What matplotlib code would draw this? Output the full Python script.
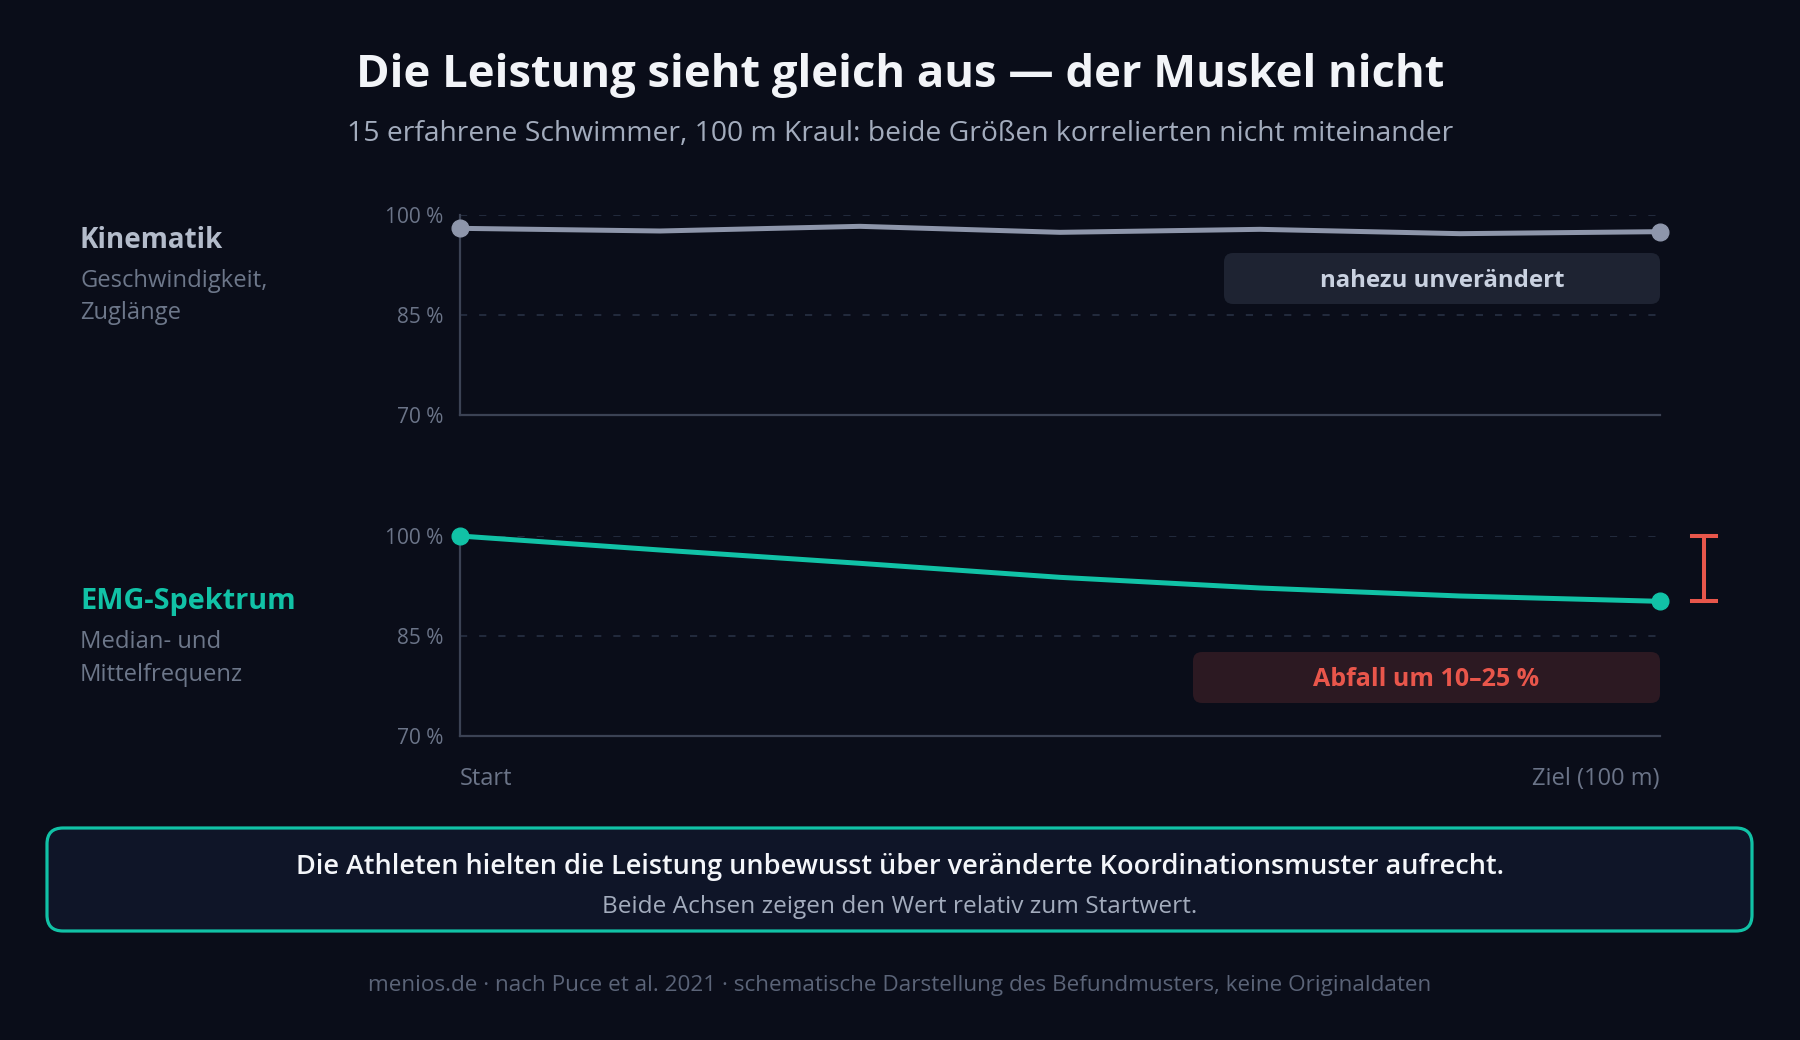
import matplotlib
matplotlib.use("Agg")
import matplotlib.pyplot as plt
from matplotlib.patches import FancyBboxPatch

plt.rcParams['font.family'] = ['Open Sans', 'Lato', 'DejaVu Sans']

# ---- data ----
x_positions = [0, 1, 2, 3, 4, 5, 6]
kinematik = [98.0, 97.6, 98.3, 97.4, 97.85, 97.2, 97.5]
emg = [100.0, 97.9, 95.9, 93.8, 92.2, 91.0, 90.2]
y_ticks = [70, 85, 100]
x_tick_pos = [0, 6]
x_tick_labels = ["Start", "Ziel (100 m)"]

title = "Die Leistung sieht gleich aus — der Muskel nicht"
subtitle = "15 erfahrene Schwimmer, 100 m Kraul: beide Größen korrelierten nicht miteinander"
box_main = "Die Athleten hielten die Leistung unbewusst über veränderte Koordinationsmuster aufrecht."
box_sub = "Beide Achsen zeigen den Wert relativ zum Startwert."
footer = "menios.de · nach Puce et al. 2021 · schematische Darstellung des Befundmusters, keine Originaldaten"

# ---- colours ----
BG = '#0a0d19'
GRID = '#283044'
SPINE = '#3b4254'
TICK = '#6b7488'
KIN = '#8e96ab'
TEAL = '#11c2a6'
RED = '#e8564b'

W, H = 1800, 1040
fig = plt.figure(figsize=(W / 100, H / 100), dpi=100, facecolor=BG)


def fx(px):
    return px / W


def fy(py):
    return 1 - py / H


def make_axes(top_px, bottom_px):
    ax = fig.add_axes([fx(460), fy(bottom_px), fx(1660) - fx(460), fy(top_px) - fy(bottom_px)])
    ax.set_facecolor(BG)
    ax.set_xlim(0, 6)
    ax.set_ylim(70, 100)
    for s in ['top', 'right']:
        ax.spines[s].set_visible(False)
    for s in ['left', 'bottom']:
        ax.spines[s].set_color(SPINE)
        ax.spines[s].set_linewidth(1.6)
    for v in y_ticks[1:]:
        ax.axhline(v, color=GRID, lw=1.2, dashes=(4.3, 7.2), zorder=1)
    ax.set_yticks(y_ticks)
    ax.set_yticklabels([f"{v} %" for v in y_ticks])
    ax.tick_params(axis='y', length=0, pad=12, labelsize=15, labelcolor=TICK)
    ax.tick_params(axis='x', length=0)
    return ax


ax1 = make_axes(215, 415)
ax2 = make_axes(536, 736)

ax1.set_xticks([])
ax1.plot(x_positions, kinematik, color=KIN, lw=3.6, solid_capstyle='round',
         marker='o', markevery=[0, -1], ms=12, clip_on=False, zorder=3)

ax2.plot(x_positions, emg, color=TEAL, lw=3.6, solid_capstyle='round',
         marker='o', markevery=[0, -1], ms=12, clip_on=False, zorder=3)
ax2.set_xticks(x_tick_pos)
ax2.set_xticklabels(x_tick_labels)
ax2.tick_params(axis='x', pad=22, labelsize=17, labelcolor=TICK)
lbls = ax2.get_xticklabels()
lbls[0].set_ha('left')
lbls[-1].set_ha('right')

# red bracket for the drop
bx = 6 + 44 / 200
ax2.plot([bx, bx], [emg[0], emg[-1]], color=RED, lw=2.9, clip_on=False)
for v in (emg[0], emg[-1]):
    ax2.plot([bx - 12 / 200, bx + 12 / 200], [v, v], color=RED, lw=2.9, clip_on=False)


def rbox(x0, y0, x1, y1, fc, ec='none', lw=0, r=8):
    p = FancyBboxPatch((fx(x0), fy(y1)), fx(x1) - fx(x0), fy(y0) - fy(y1),
                       boxstyle=f"round,pad=0,rounding_size={r / W}",
                       transform=fig.transFigure, fc=fc, ec=ec, lw=lw,
                       mutation_aspect=W / H)
    fig.add_artist(p)


# annotation boxes
rbox(1224, 253, 1660, 304, '#1e2332', r=9)
fig.text(fx(1442), fy(281), "nahezu unverändert", ha='center', va='center',
         fontsize=17.3, fontweight='bold', color='#c9d1e0')
rbox(1193, 652, 1660, 703, '#2c1922', r=9)
fig.text(fx(1426), fy(680), "Abfall um 10–25 %", ha='center', va='center',
         fontsize=18, fontweight='bold', color=RED)

# titles
fig.text(0.5, fy(76), title, ha='center', va='center', fontsize=32.7,
         fontweight='bold', color='#f2f4f8')
fig.text(0.5, fy(134), subtitle, ha='center', va='center', fontsize=20.3,
         color='#a3acbd')

# side labels
fig.text(fx(80), fy(240), "Kinematik", ha='left', va='center', fontsize=20,
         fontweight='bold', color='#b4bccb')
fig.text(fx(80), fy(281), "Geschwindigkeit,", ha='left', va='center', fontsize=17.1, color='#6d778a')
fig.text(fx(80), fy(313), "Zuglänge", ha='left', va='center', fontsize=17.1, color='#6d778a')
fig.text(fx(80), fy(602), "EMG-Spektrum", ha='left', va='center', fontsize=20.8,
         fontweight='bold', color=TEAL)
fig.text(fx(80), fy(642), "Median- und", ha='left', va='center', fontsize=17.1, color='#6d778a')
fig.text(fx(80), fy(675), "Mittelfrequenz", ha='left', va='center', fontsize=17.1, color='#6d778a')

# conclusion box
rbox(47, 828, 1752, 931, '#0f1528', ec=TEAL, lw=2.3, r=16)
fig.text(0.5, fy(867), box_main, ha='center', va='center', fontsize=19.5,
         fontweight='semibold', color='#f4f6fa')
fig.text(0.5, fy(907), box_sub, ha='center', va='center', fontsize=17.6,
         color='#a3acbd')

fig.text(0.5, fy(986), footer, ha='center', va='center', fontsize=16.2,
         color='#5b6478')

fig.savefig("out.png", dpi=100, facecolor=BG)
